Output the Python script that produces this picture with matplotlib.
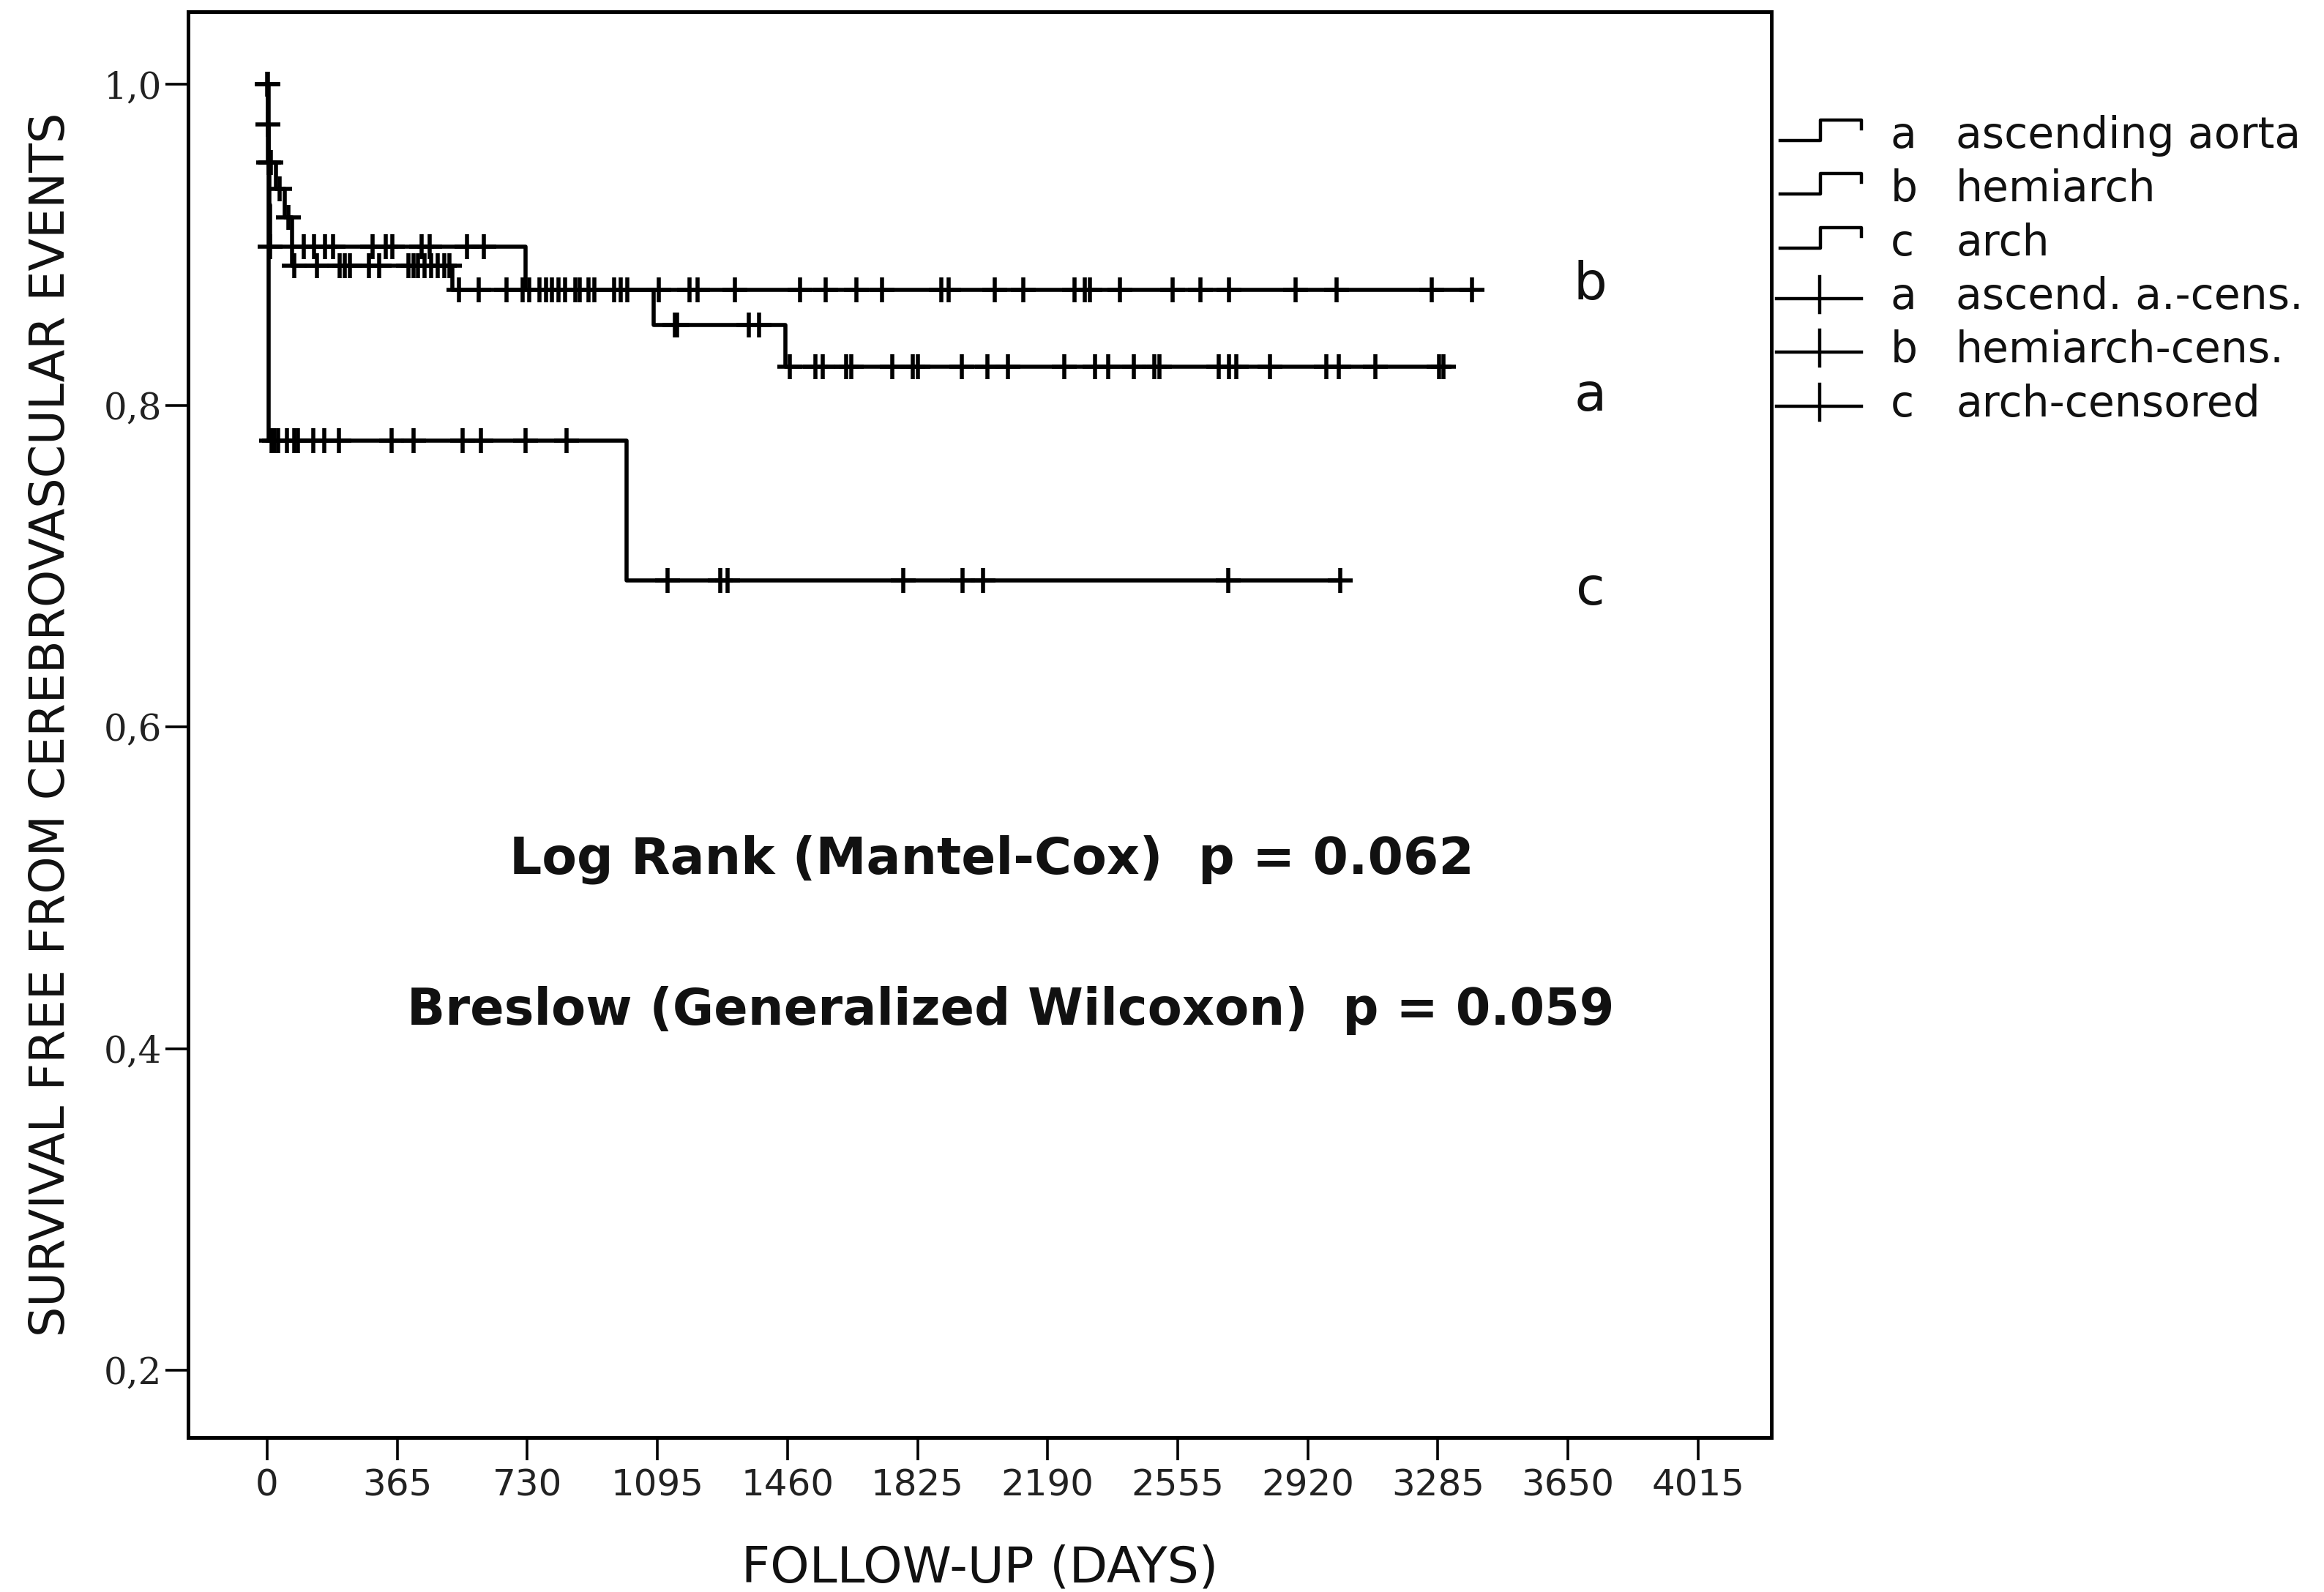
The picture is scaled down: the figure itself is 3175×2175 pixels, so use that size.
import numpy as np
import matplotlib
matplotlib.use("Agg")
import matplotlib.pyplot as plt
from matplotlib.lines import Line2D

# --- data (days, survival) ---
a_event_days = [2, 25, 50, 70, 520, 1084, 1455]
a_event_surv = [0.951, 0.935, 0.917, 0.887, 0.872, 0.850, 0.824]
a_end = 3300
a_censor = [1, 10, 35, 60, 76, 140, 203, 218, 232, 285, 314, 396, 411, 423, 442, 460,
            479, 497, 511, 538, 594, 671, 717, 764, 799, 836, 877, 918, 992, 1144,
            1150, 1351, 1380, 1466, 1538, 1559, 1625, 1639, 1754, 1811, 1826, 1949,
            2021, 2078, 2237, 2323, 2360, 2432, 2489, 2504, 2670, 2699, 2719, 2814,
            2972, 3007, 3109, 3288, 3300]

b_event_days = [1, 3, 5, 8, 725]
b_event_surv = [0.975, 0.951, 0.925, 0.899, 0.872]
b_end = 3380
b_censor = [0, 2, 4, 9, 103, 131, 162, 185, 296, 333, 351, 433, 456, 561, 608, 735,
            782, 818, 865, 901, 973, 1010, 1099, 1185, 1208, 1312, 1495, 1567, 1653,
            1725, 1892, 1912, 2042, 2122, 2265, 2294, 2309, 2393, 2541, 2619, 2699,
            2886, 3001, 3268, 3380]

c_event_days = [3, 1008]
c_event_surv = [0.778, 0.691]
c_end = 3011
c_censor = [12, 20, 30, 55, 76, 86, 129, 160, 201, 349, 411, 548, 600, 725, 840, 1124,
            1271, 1292, 1785, 1951, 2009, 2697, 3011]

x_ticks = [0, 365, 730, 1095, 1460, 1825, 2190, 2555, 2920, 3285, 3650, 4015]
y_ticks = [0.2, 0.4, 0.6, 0.8, 1.0]
y_tick_labels = ["0,2", "0,4", "0,6", "0,8", "1,0"]

legend_letters = ["a", "b", "c", "a", "b", "c"]
legend_names = ["ascending aorta", "hemiarch", "arch",
                "ascend. a.-cens.", "hemiarch-cens.", "arch-censored"]

curves = [
    ("a", a_event_days, a_event_surv, a_end, a_censor, 0.797),
    ("b", b_event_days, b_event_surv, b_end, b_censor, 0.866),
    ("c", c_event_days, c_event_surv, c_end, c_censor, 0.676),
]


def step_value(days, surv, t):
    levels = [1.0] + list(surv)
    return levels[np.searchsorted(days, t, side="right")]


W, H = 3175, 2175
fig = plt.figure(figsize=(W / 200, H / 200), dpi=200)
ax = fig.add_axes([257 / W, 1 - 1964 / H, (2420 - 257) / W, (1964 - 16) / H])

for letter, days, surv, end, cens, label_y in curves:
    xs = [0] + list(days) + [end]
    ys = [1.0] + list(surv) + [surv[-1]]
    ax.step(xs, ys, where="post", color="black", lw=2.0)
    cy = [step_value(days, surv, t) for t in cens]
    ax.plot(cens, cy, ls="none", marker="+", ms=12, mew=2.0, color="black")
    ax.text(3713, label_y, letter, fontsize=26, ha="center", va="baseline",
            family="DejaVu Sans", color="#111111")

ax.text(2033, 0.509, "Log Rank (Mantel-Cox)  p = 0.062", fontsize=25,
        fontweight="bold", ha="center", va="baseline", color="#111111")
ax.text(2087, 0.4146, "Breslow (Generalized Wilcoxon)  p = 0.059", fontsize=24.7,
        fontweight="bold", ha="center", va="baseline", color="#111111")

ax.set_xlim(-222, 4221)
ax.set_ylim(0.158, 1.045)
ax.set_xticks(x_ticks)
ax.set_xticklabels([str(t) for t in x_ticks], fontsize=18, color="#222222")
ax.set_yticks(y_ticks)
ax.set_yticklabels(y_tick_labels, fontsize=18, family="DejaVu Serif", color="#222222")
ax.tick_params(axis="both", direction="out", length=11, width=1.3)
ax.tick_params(axis="y", pad=2)
ax.tick_params(axis="x", pad=4)
for sp in ax.spines.values():
    sp.set_linewidth(1.8)

ax.set_xlabel("FOLLOW-UP (DAYS)", fontsize=24.5, labelpad=20, color="#111111")
ax.set_ylabel("SURVIVAL FREE FROM CEREBROVASCULAR EVENTS", fontsize=23.5,
              labelpad=14, color="#111111")

# legend drawn beside the right spine
row_base = [202, 275, 349, 422, 495, 569]
for i, (letter, name) in enumerate(zip(legend_letters, legend_names)):
    yb = row_base[i]
    if i < 3:
        px = [2432, 2487, 2487, 2543, 2543]
        py = [yb - 10, yb - 10, yb - 38, yb - 38, yb - 26]
        fig.add_artist(Line2D([p / W for p in px], [1 - p / H for p in py],
                              color="black", lw=1.6))
    else:
        fig.add_artist(Line2D([2427 / W, 2543 / W], [1 - (yb - 14) / H] * 2,
                              color="black", lw=1.6))
        fig.add_artist(Line2D([2486 / W, 2486 / W],
                              [1 - (yb - 44) / H, 1 - (yb + 5) / H],
                              color="black", lw=1.6))
    fig.text(2583 / W, 1 - yb / H, letter, fontsize=21, va="baseline", color="#111111")
    fig.text(2672 / W, 1 - yb / H, name, fontsize=21, va="baseline", color="#111111")

fig.savefig("out.png", dpi=200, facecolor="white")
